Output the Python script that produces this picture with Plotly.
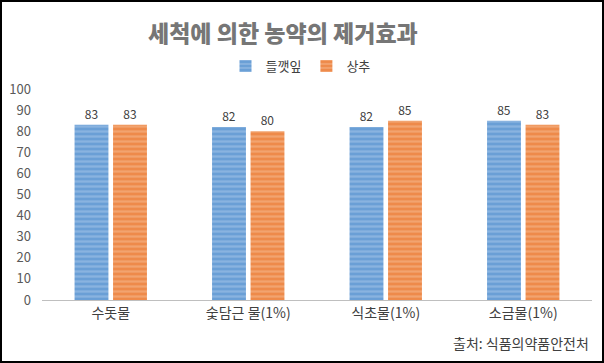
import plotly.graph_objects as go

categories = ["수돗물", "숯담근 물(1%)", "식초물(1%)", "소금물(1%)"]
perilla = [83, 82, 82, 85]
lettuce = [83, 80, 85, 83]
series_names = ["들깻잎", "상추"]
tick_vals = list(range(0, 101, 10))

W, H = 604, 363
ml, mr, mt, mb = 42, 12, 89, 63
pw, ph = W - ml - mr, H - mt - mb

FONT = "Noto Sans CJK KR"

fig = go.Figure()
fig.add_trace(go.Bar(
    x=categories, y=perilla, name=series_names[0],
    marker=dict(color="#6A9FD6", line=dict(width=0),
                pattern=dict(shape="-", fgcolor="#A8C8EA", size=5, solidity=0.45)),
    text=perilla, textposition="outside",
    textfont=dict(color="#404040", size=12, family=FONT),
    cliponaxis=False,
))
fig.add_trace(go.Bar(
    x=categories, y=lettuce, name=series_names[1],
    marker=dict(color="#EE8A4A", line=dict(width=0),
                pattern=dict(shape="-", fgcolor="#F6BB93", size=5, solidity=0.45)),
    text=lettuce, textposition="outside",
    textfont=dict(color="#404040", size=12, family=FONT),
    cliponaxis=False,
))

title_text = "세척에 의한 농약의 제거효과"
fig.add_annotation(x=(283 - ml) / pw, y=1 + (mt - 32) / ph, xref="paper", yref="paper",
                   xanchor="center", yanchor="middle",
                   text=title_text, showarrow=False,
                   font=dict(family=FONT, size=23, color="#767676", weight=900))

fig.add_annotation(x=(591 - ml) / pw, y=-(343 - (H - mb)) / ph, xref="paper", yref="paper",
                   xanchor="right", yanchor="middle",
                   text="출처: 식품의약품안전처", showarrow=False,
                   font=dict(family=FONT, size=14, color="#404040"))

fig.add_shape(type="rect", xref="paper", yref="paper",
              x0=-(ml - 1) / pw, x1=1 + (mr - 1) / pw,
              y0=-(mb - 1) / ph, y1=1 + (mt - 1) / ph,
              line=dict(color="black", width=2), fillcolor="rgba(0,0,0,0)")

fig.update_layout(
    width=W, height=H,
    margin=dict(l=ml, r=mr, t=mt, b=mb, autoexpand=False),
    paper_bgcolor="white", plot_bgcolor="white",
    barmode="group", bargap=0.44, bargroupgap=0.12,
    showlegend=True,
    legend=dict(orientation="h", x=0.47, xanchor="center",
                y=1 + (mt - 66) / ph, yanchor="middle",
                font=dict(family=FONT, size=13, color="#404040"),
                itemwidth=30, traceorder="normal"),
    font=dict(family=FONT, color="#595959"),
)
fig.update_xaxes(showline=True, linecolor="#BFBFBF", linewidth=1, ticks="",
                 tickfont=dict(family=FONT, size=14, color="#404040"))
fig.update_yaxes(range=[0, 100], tickvals=tick_vals, showgrid=False, zeroline=False,
                 showline=False, ticks="", ticklabelstandoff=10,
                 tickfont=dict(family=FONT, size=13, color="#595959"))

fig.write_html("out.html", config={"displayModeBar": False},
               post_script="document.body.style.margin='0';")
